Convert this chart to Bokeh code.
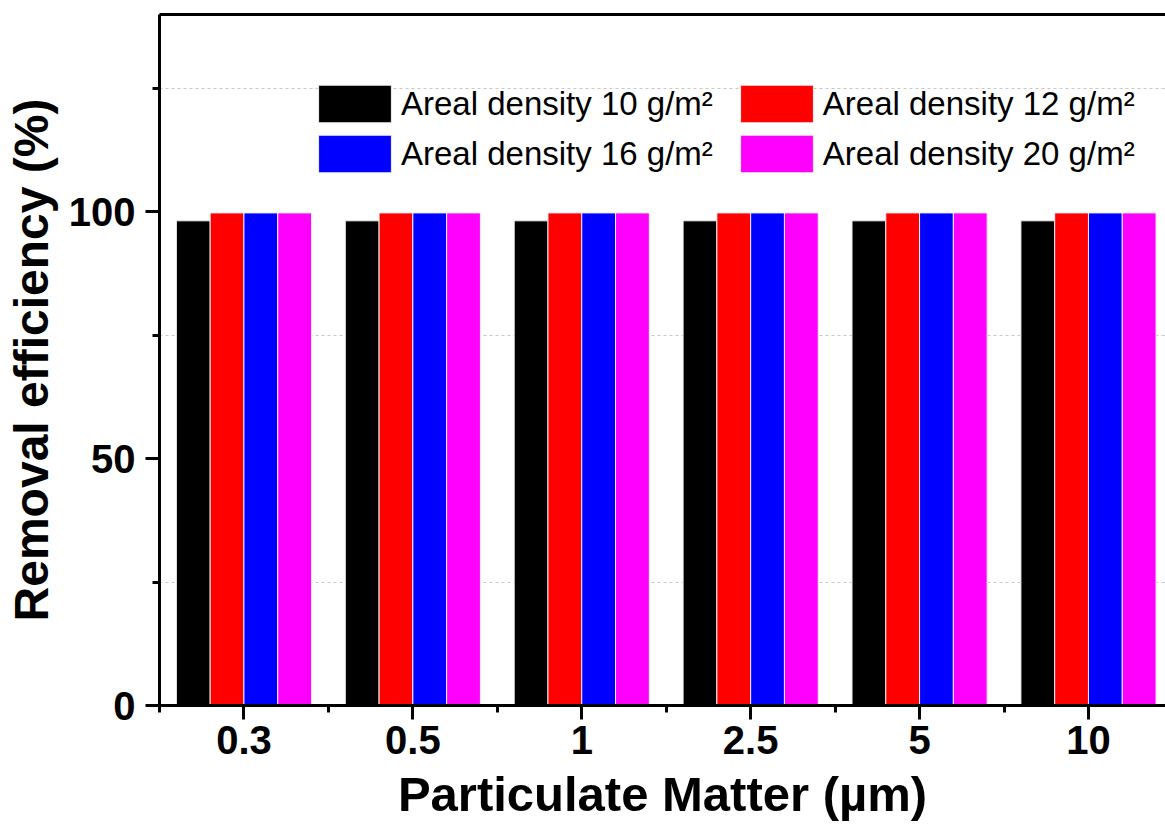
from bokeh.plotting import figure
from bokeh.models import (ColumnDataSource, FixedTicker, LinearAxis, Legend,
                          LegendItem, Range1d)
from bokeh.transform import dodge
from bokeh.embed import file_html
from bokeh.resources import INLINE

# ---- data ----
categories = ["0.3", "0.5", "1", "2.5", "5", "10"]
series_labels = ["Areal density 10 g/m\u00b2", "Areal density 12 g/m\u00b2",
                 "Areal density 16 g/m\u00b2", "Areal density 20 g/m\u00b2"]
eff_10 = [98.2, 98.2, 98.2, 98.2, 98.2, 98.2]
eff_12 = [99.8, 99.8, 99.8, 99.8, 99.8, 99.8]
eff_16 = [99.8, 99.8, 99.8, 99.8, 99.8, 99.8]
eff_20 = [99.8, 99.8, 99.8, 99.8, 99.8, 99.8]
y_major = [0, 50, 100]
y_minor = [25, 75, 125]
x_title = "Particulate Matter (\u00b5m)"
y_title = "Removal efficiency (%)"

colors = ["#000000", "#ff0000", "#0000ff", "#ff00ff"]
offsets = [-0.3, -0.1, 0.1, 0.3]
FONT = "Liberation Sans"

idx = list(range(len(categories)))
source = ColumnDataSource(dict(x=idx, s0=eff_10, s1=eff_12, s2=eff_16, s3=eff_20))

p = figure(width=1165, height=825, output_backend="svg", toolbar_location=None,
           x_range=Range1d(-0.5, 5.456), y_range=Range1d(0, 140),
           min_border_left=159, min_border_top=14, min_border_right=0,
           min_border_bottom=120)
p.outline_line_color = None
p.background_fill_color = "white"

renderers = []
for k, col in enumerate(["s0", "s1", "s2", "s3"]):
    r = p.vbar(x=dodge("x", offsets[k], range=p.x_range), top=col, width=0.2,
               source=source, fill_color=colors[k], line_color="#f0f0f0",
               line_width=1)
    renderers.append(r)

# grid
p.xgrid.visible = False
p.ygrid.ticker = FixedTicker(ticks=y_minor)
p.ygrid.grid_line_color = "#c8c8c8"
p.ygrid.grid_line_dash = "3 3"
p.ygrid.grid_line_width = 1

# axes
for ax in (p.xaxis[0], p.yaxis[0]):
    ax.axis_line_width = 3
    ax.axis_line_color = "black"
    ax.major_tick_line_width = 3
    ax.minor_tick_line_width = 3
    ax.major_tick_in = 0
    ax.major_tick_out = 14
    ax.minor_tick_in = 0
    ax.minor_tick_out = 7
    ax.major_label_text_font = FONT
    ax.major_label_text_font_style = "bold"
    ax.major_label_text_font_size = "40px"
    ax.major_label_text_color = "black"
    ax.axis_label_text_font = FONT
    ax.axis_label_text_font_style = "bold"
    ax.axis_label_text_color = "black"

p.yaxis.ticker = FixedTicker(ticks=y_major, minor_ticks=y_minor)
p.yaxis.major_label_standoff = 10
p.yaxis.axis_label = y_title
p.yaxis.axis_label_text_font_size = "48px"
p.yaxis.axis_label_standoff = 8

p.xaxis.ticker = FixedTicker(ticks=idx, minor_ticks=[i - 0.5 for i in idx])
p.xaxis.major_label_overrides = {i: c for i, c in enumerate(categories)}
p.xaxis.major_label_standoff = 6
p.xaxis.axis_label = x_title
p.xaxis.axis_label_text_font_size = "49px"
p.xaxis.axis_label_standoff = 10

# top border line
top_axis = LinearAxis(ticker=FixedTicker(ticks=[]), axis_line_width=3,
                      axis_line_color="black", major_label_text_font_size="0px",
                      major_tick_out=0, minor_tick_out=0)
p.add_layout(top_axis, "above")

# legends (two rows)
def make_legend(items, bottom):
    return Legend(items=items, location=(150, bottom), orientation="horizontal",
                  glyph_width=91, glyph_height=47, label_height=47,
                  label_standoff=1, spacing=18, padding=0, margin=0,
                  border_line_color=None, background_fill_alpha=0,
                  label_text_font=FONT, label_text_font_size="33px",
                  label_text_color="black")

row1 = [LegendItem(label=series_labels[0], renderers=[renderers[0]]),
        LegendItem(label=series_labels[1], renderers=[renderers[1]])]
row2 = [LegendItem(label=series_labels[2], renderers=[renderers[2]]),
        LegendItem(label=series_labels[3], renderers=[renderers[3]])]
p.add_layout(make_legend(row1, 578))
p.add_layout(make_legend(row2, 528))

open("out.html", "w").write(file_html(p, INLINE))
